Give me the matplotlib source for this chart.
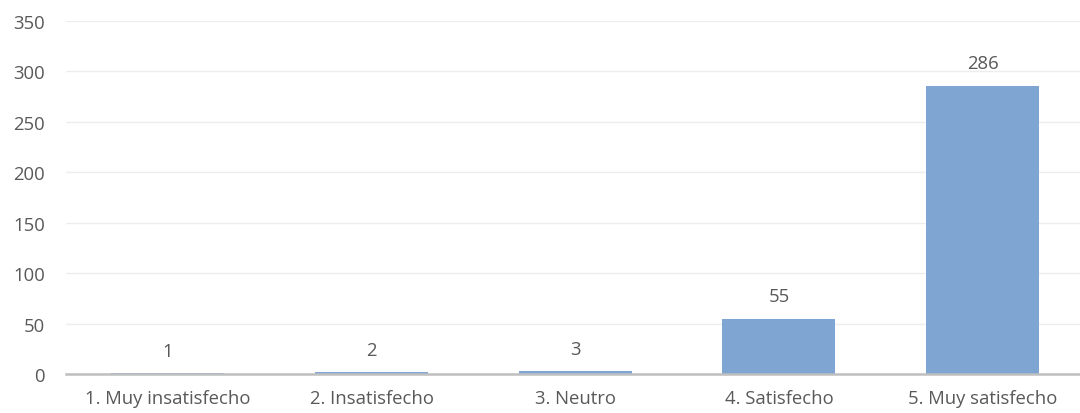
import matplotlib
matplotlib.use("Agg")
import matplotlib.pyplot as plt

categories = ["1. Muy insatisfecho", "2. Insatisfecho", "3. Neutro",
              "4. Satisfecho", "5. Muy satisfecho"]
values = [1, 2, 3, 55, 286]
y_ticks = [0, 50, 100, 150, 200, 250, 300, 350]

plt.rcParams["font.family"] = ["Open Sans", "DejaVu Sans"]
text_color = "#595959"
bar_color = "#7FA6D2"
fs = 13.3

fig = plt.figure(figsize=(10.8, 4.14), dpi=100)
ax = fig.add_axes([66 / 1080, 39 / 414, 1018.5 / 1080, 353 / 414])

x = list(range(len(categories)))
bars = ax.bar(x, values, width=0.555, color=bar_color, zorder=3)

for xi, v in zip(x, values):
    ax.annotate(str(v), (xi, v), xytext=(0, 12.5), textcoords="offset points",
                ha="center", va="baseline", fontsize=fs, color=text_color)

ax.set_xlim(-0.5, len(categories) - 0.5)
ax.set_ylim(0, 350)
ax.set_yticks(y_ticks)
ax.set_xticks(x)
ax.set_xticklabels(categories)

ax.grid(axis="y", color="#EDEDED", linewidth=1, zorder=0)
ax.set_axisbelow(True)
for side in ["top", "right", "left"]:
    ax.spines[side].set_visible(False)
ax.spines["bottom"].set_color("#BFBFBF")
ax.spines["bottom"].set_linewidth(1.8)
ax.spines["bottom"].set_zorder(4)

ax.tick_params(axis="both", length=0, labelsize=fs, labelcolor=text_color)
ax.tick_params(axis="y", pad=15)
ax.tick_params(axis="x", pad=10.5)

fig.savefig("out.png", dpi=100, facecolor="white")
